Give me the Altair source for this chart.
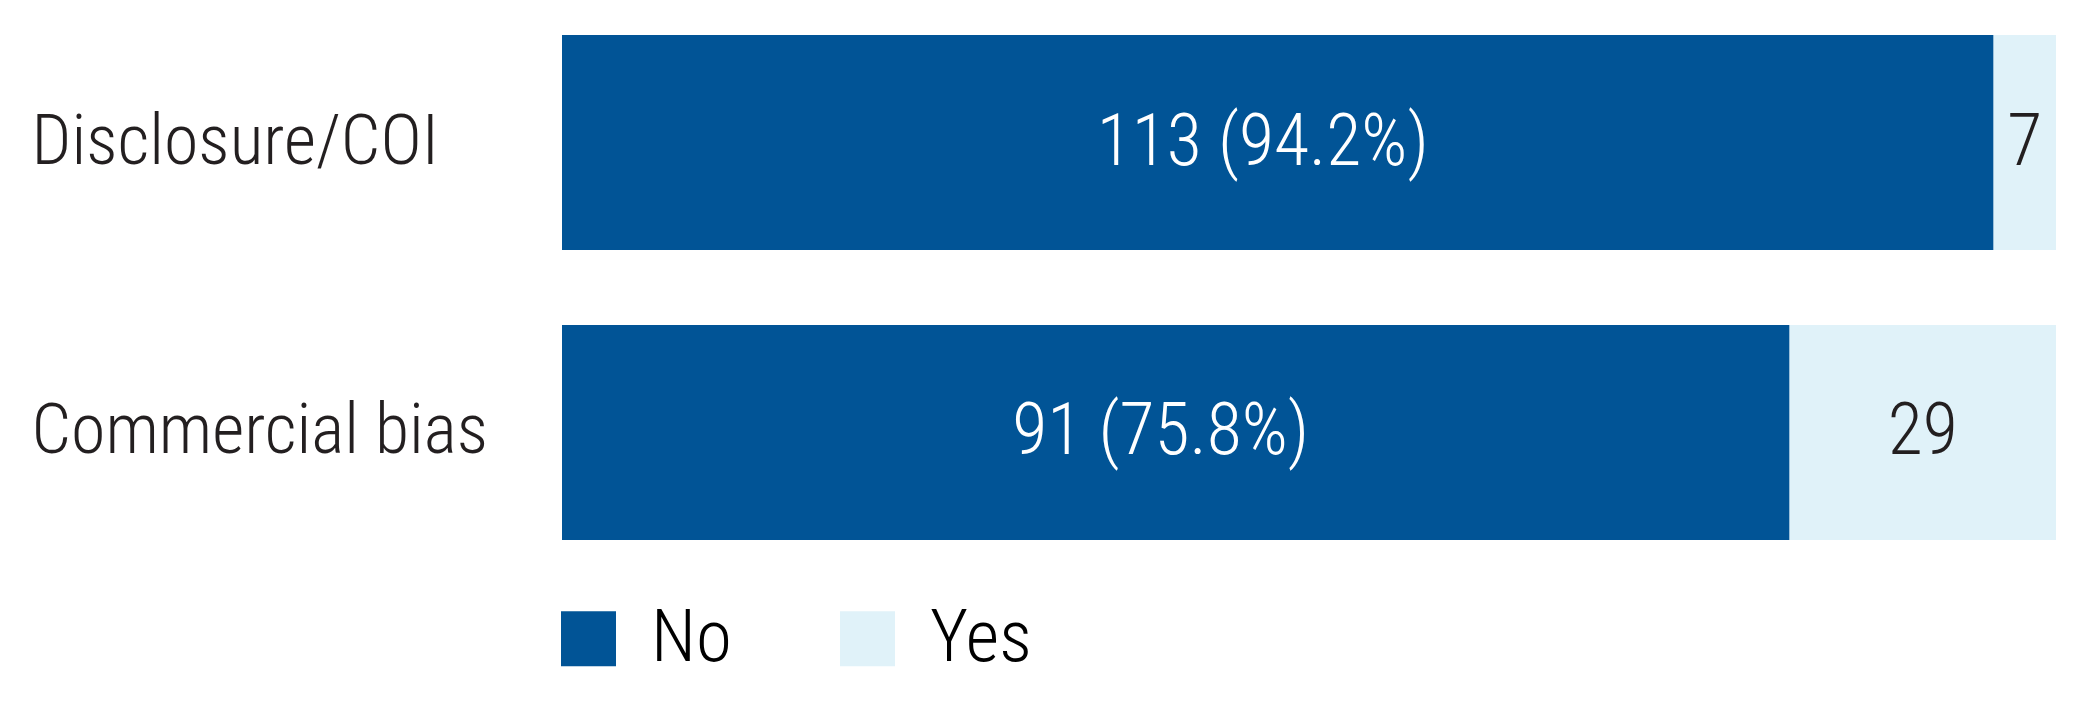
import altair as alt
import pandas as pd

# ---- data ----
categories = ["Disclosure/COI", "Commercial bias"]
responses = ["No", "Yes"]
no_counts = [113, 91]
yes_counts = [7, 29]

colors = ["#015496", "#E0F2F9"]
FONT = "Roboto Condensed"
EXP = 0.71  # the source chart's horizontal scale is not linear; a pow scale matches it
D = max(n + y for n, y in zip(no_counts, yes_counts))

rows = []
for cat, n, y in zip(categories, no_counts, yes_counts):
    total = n + y
    for resp, start, end, label in [
        ("No", 0, n, f"{n} ({n / total * 100:.1f}%)"),
        ("Yes", n, total, f"{y}"),
    ]:
        # value whose scaled position is the pixel midpoint of the segment
        mid = D * ((((start / D) ** EXP) + ((end / D) ** EXP)) / 2) ** (1 / EXP)
        rows.append(dict(category=cat, response=resp, start=start, end=end, mid=mid, label=label))
df = pd.DataFrame(rows)

y_enc = alt.Y(
    "category:N",
    sort=categories,
    title=None,
    scale=alt.Scale(paddingInner=0.2586, paddingOuter=0),
    axis=alt.Axis(
        labelAlign="left",
        labelBaseline="middle",
        labelPadding=531,
        labelFontSize=70,
        labelFont=FONT,
        labelFontWeight=300,
        labelColor="#231F20",
        labelLimit=0,
        ticks=False,
        domain=False,
        grid=False,
    ),
)
x_scale = alt.Scale(type="pow", exponent=EXP, domain=[0, D], nice=False, zero=True)

base = alt.Chart(df)

bars = base.mark_bar().encode(
    y=y_enc,
    x=alt.X("start:Q", scale=x_scale, axis=None),
    x2="end:Q",
    color=alt.Color(
        "response:N",
        scale=alt.Scale(domain=responses, range=colors),
        legend=alt.Legend(
            title=None,
            orient="none",
            legendX=-10,
            legendY=567,
            direction="horizontal",
            symbolType="square",
            symbolSize=3025,
            symbolStrokeWidth=0,
            symbolOpacity=1,
            labelFontSize=73,
            labelFont=FONT,
            labelFontWeight=300,
            labelColor="#000000",
            labelOffset=26,
            columnPadding=99,
            padding=0,
            labelLimit=0,
        ),
    ),
)

no_text = base.transform_filter(alt.datum.response == "No").mark_text(
    color="white", fontSize=72, font=FONT, fontWeight=300, baseline="middle", align="center", dx=-15
).encode(y=alt.Y("category:N", sort=categories), x=alt.X("mid:Q"), text="label:N")

yes_text = base.transform_filter(alt.datum.response == "Yes").mark_text(
    color="#231F20", fontSize=72, font=FONT, fontWeight=300, baseline="middle", align="center"
).encode(y=alt.Y("category:N", sort=categories), x=alt.X("mid:Q"), text="label:N")

chart = (
    alt.layer(bars, no_text, yes_text)
    .properties(
        width=1494,
        height=505,
        autosize=alt.AutoSizeParams(type="none"),
        padding={"left": 554, "top": 27, "right": 27, "bottom": 155},
        background="white",
    )
    .configure_view(stroke=None)
)

chart.save("out.html", embed_options={"renderer": "svg", "actions": False})
